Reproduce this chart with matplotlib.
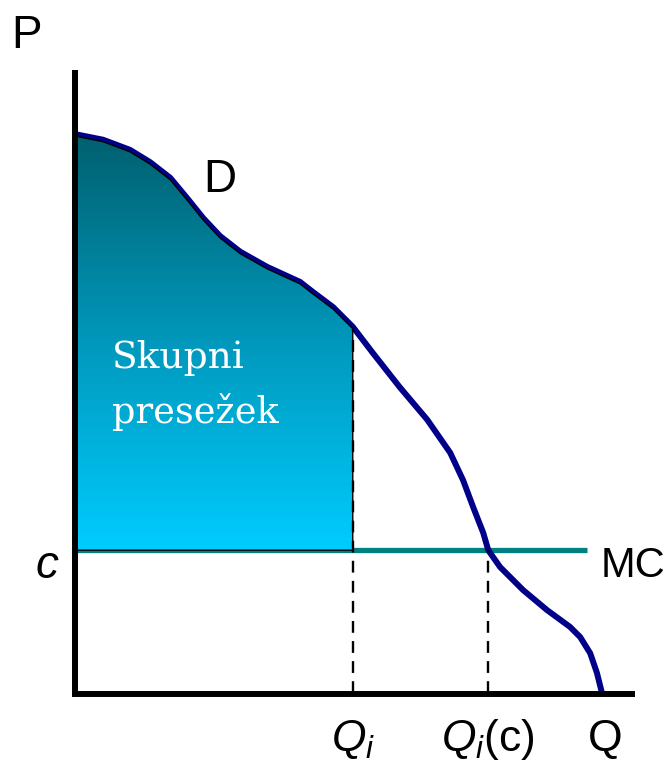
import numpy as np
import matplotlib.pyplot as plt
import matplotlib.colors as colors
from matplotlib.patches import Polygon

plt.rcParams['mathtext.fontset'] = 'custom'
plt.rcParams['mathtext.it'] = 'Liberation Sans:italic'
plt.rcParams['mathtext.rm'] = 'Liberation Sans'

# Demand curve D (quantity, price)
d_q = [0.0, 5.0, 9.8, 13.4, 17.0, 20.0, 22.9, 25.9, 29.5, 34.3, 40.2, 42.5,
       46.1, 49.6, 53.2, 58.0, 62.9, 67.0, 69.3, 71.1, 72.9, 73.8, 75.9,
       80.0, 84.3, 88.4, 90.2, 92.0, 93.2, 94.1]
d_p = [99.8, 98.8, 97.0, 94.8, 92.0, 88.4, 84.8, 81.6, 78.8, 76.1, 73.4, 71.6,
       68.9, 65.4, 60.7, 54.6, 48.8, 42.9, 38.0, 33.2, 28.6, 25.5, 22.5,
       18.4, 14.8, 11.8, 10.0, 7.1, 3.6, 0.0]

c_level = 25.5      # marginal cost
q_i = 49.6          # Q_i
q_ic = 73.8         # Q_i(c)
mc_end = 91.4
q_axis_max = 100
p_axis_max = 111.25

sans = 'Liberation Sans'


def main():
    fig = plt.figure(figsize=(6.7, 7.61), dpi=100)
    ax = fig.add_axes([0, 0, 1, 1])
    ax.set_xlim(-75 / 5.6, 595 / 5.6)
    ax.set_ylim(-68 / 5.6, 693 / 5.6)
    ax.axis('off')

    # MC line
    ax.plot([0, mc_end], [c_level, c_level], color='#008080', lw=3.8,
            solid_capstyle='butt', zorder=2)

    # demand curve
    ax.plot(d_q, d_p, color='#000088', lw=4.3, solid_joinstyle='round',
            solid_capstyle='butt', zorder=3)

    # consumer surplus area (edge sits just under the D line)
    pq = [q for q in d_q if q <= q_i]
    pp = [p - 0.35 for p in d_p[:len(pq)]]
    verts = list(zip(pq, pp)) + [(q_i, c_level), (0, c_level)]
    poly = Polygon(verts, closed=True, facecolor='none', edgecolor='black',
                   lw=1.0, zorder=5)
    ax.add_patch(poly)
    cmap = colors.LinearSegmentedColormap.from_list('cs', ['#00CCFF', '#0098BC', '#00606F'])
    grad = np.linspace(0, 1, 256).reshape(-1, 1)
    im = ax.imshow(grad, cmap=cmap, origin='lower', aspect='auto',
                   extent=(0, q_i, c_level, max(pp)), zorder=4,
                   interpolation='bilinear')
    im.set_clip_path(poly)

    # dashed guides
    ax.plot([q_i, q_i], [0, pp[-1]], color='black', lw=1.7, ls=(0, (5, 3.5)), zorder=6)
    ax.plot([q_ic, q_ic], [0, c_level], color='black', lw=1.7, ls=(0, (5, 3.5)), zorder=6)

    # axes
    ax.plot([0, 0], [-0.5, p_axis_max], color='black', lw=4.3,
            solid_capstyle='butt', zorder=7)
    ax.plot([-0.5, q_axis_max], [-0.2, -0.2], color='black', lw=4.3,
            solid_capstyle='butt', zorder=7)

    # labels
    ax.text(-8.75, 115.2, 'P', fontsize=33, family=sans, ha='center', va='baseline')
    ax.text(25.9, 89.5, 'D', fontsize=33, family=sans, ha='center', va='baseline')
    ax.text(-5.0, 20.5, 'c', fontsize=33, family=sans, style='italic',
            ha='center', va='baseline')
    ax.text(105.4, 20.7, 'MC', fontsize=30, family=sans, ha='right', va='baseline')
    ax.text(q_i, -10.3, r'$Q_i$', fontsize=32, ha='center', va='baseline')
    ax.text(q_ic, -10.3, r'$Q_i(\mathrm{c})$', fontsize=32, ha='center', va='baseline')
    ax.text(94.6, -10.3, 'Q', fontsize=32, family=sans, ha='center', va='baseline')
    ax.text(6.6, 58.0, 'Skupni', fontsize=27, family='DejaVu Serif', color='white',
            ha='left', va='baseline', zorder=8)
    ax.text(6.6, 48.2, 'presežek', fontsize=26.5, family='DejaVu Serif', color='white',
            ha='left', va='baseline', zorder=8)

    fig.savefig('out.png', dpi=100)
    plt.close('all')


if __name__ == '__main__':
    main()
